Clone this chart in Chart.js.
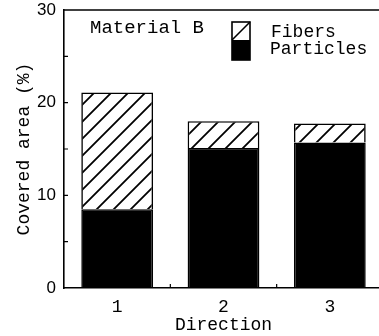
<!DOCTYPE html>
<html>
<head>
<meta charset="utf-8">
<script src="https://cdn.jsdelivr.net/npm/chart.js@4.4.1/dist/chart.umd.min.js"></script>
<style>
  html, body { margin: 0; padding: 0; background: #fff; overflow: hidden; }
  #wrap { position: relative; width: 384px; height: 336px; }
</style>
</head>
<body>
<div id="wrap"><canvas id="CoverChart"></canvas></div>
<script>
// values (covered area, %)
const directions = ['1', '2', '3'];
const particles = [8.5, 15.1, 15.7];
const fibers = [12.6, 2.9, 2.05];
const yTicks = [0, 10, 20, 30];

const mono = "'Liberation Mono', 'Courier New', monospace";
const sans = "'Liberation Sans', Arial, sans-serif";

// diagonal hatch for the fibers part
function makeHatch() {
  const s = 17;
  const c = document.createElement('canvas');
  c.width = s; c.height = s;
  const g = c.getContext('2d');
  g.fillStyle = '#fff';
  g.fillRect(0, 0, s, s);
  g.strokeStyle = '#000';
  g.lineWidth = 1.8;
  g.beginPath();
  g.moveTo(-2, s + 2); g.lineTo(s + 2, -2);
  g.moveTo(-2, 2); g.lineTo(2, -2);
  g.moveTo(s - 2, s + 2); g.lineTo(s + 2, s - 2);
  g.stroke();
  return g.createPattern(c, 'repeat');
}
const hatch = makeHatch();

// frame top line, inward ticks, label text and legend
const decorations = {
  id: 'decorations',
  afterDraw(chart) {
    const ctx = chart.ctx;
    const area = chart.chartArea;
    const y = chart.scales.y;
    const x = chart.scales.x;
    ctx.save();
    ctx.strokeStyle = '#000';
    ctx.lineWidth = 1.6;
    ctx.beginPath();
    ctx.moveTo(area.left, area.top);
    ctx.lineTo(area.right + 2, area.top);
    ctx.stroke();

    ctx.lineWidth = 1.2;
    ctx.beginPath();
    [5, 10, 15, 20, 25].forEach(v => {
      const py = y.getPixelForValue(v);
      ctx.moveTo(area.left, py);
      ctx.lineTo(area.left + 4, py);
    });
    for (let i = 1; i < directions.length; i++) {
      const px = (x.getPixelForValue(i - 1) + x.getPixelForValue(i)) / 2;
      ctx.moveTo(px, area.bottom);
      ctx.lineTo(px, area.bottom - 4);
    }
    ctx.stroke();

    ctx.fillStyle = '#000';
    ctx.textBaseline = 'alphabetic';
    ctx.font = '19px ' + mono;
    ctx.fillText('Material B', 90, 33);
    ctx.font = '18px ' + mono;
    ctx.fillText('Fibers', 271, 37);
    ctx.fillText('Particles', 270, 54);

    // legend key: hatched half over solid half
    ctx.fillStyle = '#fff';
    ctx.fillRect(232, 22, 18, 18);
    ctx.fillStyle = '#000';
    ctx.fillRect(232, 40, 18, 20);
    ctx.lineWidth = 1.6;
    ctx.strokeRect(232, 22, 18, 38);
    ctx.beginPath();
    ctx.moveTo(232, 40);
    ctx.lineTo(250, 22);
    ctx.stroke();
    ctx.restore();
  }
};

new Chart(document.getElementById('CoverChart'), {
  type: 'bar',
  data: {
    labels: directions,
    datasets: [
      {
        label: 'Particles',
        data: particles,
        backgroundColor: '#000',
        borderColor: '#000',
        borderWidth: 1.6
      },
      {
        label: 'Fibers',
        data: fibers,
        backgroundColor: hatch,
        borderColor: '#000',
        borderWidth: 1.6
      }
    ]
  },
  options: {
    responsive: true,
    maintainAspectRatio: false,
    animation: false,
    layout: { padding: { top: 10, left: 0, right: 1, bottom: 0 } },
    datasets: { bar: { categoryPercentage: 1, barPercentage: 0.675 } },
    plugins: {
      legend: { display: false },
      tooltip: { enabled: false }
    },
    scales: {
      x: {
        stacked: true,
        grid: { display: false, drawTicks: false },
        border: { display: true, color: '#000', width: 1.6 },
        ticks: { color: '#000', font: { family: mono, size: 18 }, padding: 8 },
        title: { display: true, text: 'Direction', color: '#000', font: { family: mono, size: 18 }, padding: { top: 0, bottom: 0 } },
        afterFit(scale) {
          scale.height = 48;
          scale.paddingLeft = 0;
          scale.paddingRight = 0;
        }
      },
      y: {
        stacked: true,
        min: 0,
        max: 30,
        grid: { display: false, drawTicks: false },
        border: { display: true, color: '#000', width: 1.6 },
        afterBuildTicks(scale) { scale.ticks = yTicks.map(v => ({ value: v })); },
        ticks: { color: '#000', font: { family: sans, size: 17 }, padding: 8 },
        title: { display: true, text: 'Covered area (%)', color: '#000', font: { family: mono, size: 18 }, padding: { top: 13, bottom: 0 } },
        afterFit(scale) {
          scale.width = 64;
          scale.paddingTop = 0;
          scale.paddingBottom = 0;
        }
      }
    }
  },
  plugins: [decorations]
});
</script>
</body>
</html>
